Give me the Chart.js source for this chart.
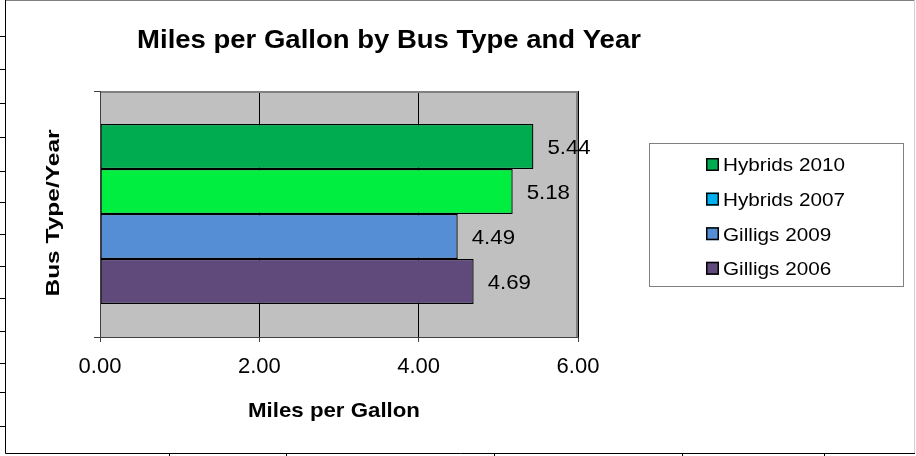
<!DOCTYPE html>
<html>
<head>
<meta charset="utf-8">
<script src="https://cdn.jsdelivr.net/npm/chart.js@4"></script>
<style>
html,body{margin:0;padding:0;background:#fff;}
canvas{display:block;}
</style>
</head>
<body>
<canvas id="c" width="916" height="456"></canvas>
<script>
// ---- data ----
const categories = [''];
const seriesNames = ['Hybrids 2010', 'Hybrids 2007', 'Gilligs 2009', 'Gilligs 2006'];
const seriesValues = [5.44, 5.18, 4.49, 4.69];
const barColors = ['#00AC50', '#00EE40', '#558ED5', '#604A7B'];
const legendColors = ['#00AC50', '#00B0F0', '#558ED5', '#604A7B'];
const xTickValues = [0, 2, 4, 6];
const chartTitle = 'Miles per Gallon by Bus Type and Year';
const xAxisTitle = 'Miles per Gallon';
const yAxisTitle = 'Bus Type/Year';

const FONT = '"Liberation Sans", Arial, sans-serif';

function drawText(ctx, text, x, y, font, sx, align, rot) {
  ctx.save();
  ctx.translate(x, y);
  if (rot) ctx.rotate(rot);
  ctx.scale(sx, 1);
  ctx.font = font;
  ctx.fillStyle = '#000';
  ctx.textAlign = align || 'left';
  ctx.textBaseline = 'alphabetic';
  ctx.fillText(text, 0, 0);
  ctx.restore();
}

const decor = {
  id: 'decor',
  beforeDraw(chart) {
    const ctx = chart.ctx;
    const a = chart.chartArea;
    ctx.save();
    ctx.fillStyle = '#fff';
    ctx.fillRect(0, 0, chart.width, chart.height);
    // spreadsheet cell marks outside the chart
    ctx.strokeStyle = '#000';
    ctx.lineWidth = 1;
    ctx.beginPath();
    [36, 69, 103, 137, 171, 202, 234, 266, 298, 331, 363, 392, 426].forEach(y => {
      ctx.moveTo(0, y + 0.5); ctx.lineTo(5, y + 0.5);
    });
    [169, 286, 494, 682, 824].forEach(x => {
      ctx.moveTo(x + 0.5, 453); ctx.lineTo(x + 0.5, 456);
    });
    ctx.stroke();
    // chart border
    ctx.strokeStyle = '#808080';
    ctx.beginPath(); ctx.moveTo(5, 0.5); ctx.lineTo(915, 0.5); ctx.stroke();
    ctx.strokeStyle = '#d0d0d0';
    ctx.beginPath(); ctx.moveTo(914.5, 0); ctx.lineTo(914.5, 453); ctx.stroke();
    ctx.strokeStyle = '#000';
    ctx.beginPath(); ctx.moveTo(5.5, 0); ctx.lineTo(5.5, 453.5); ctx.lineTo(915, 453.5); ctx.stroke();
    // plot background
    ctx.fillStyle = '#C0C0C0';
    ctx.fillRect(a.left, a.top, a.right - a.left, a.bottom - a.top);
    ctx.restore();
  },
  afterDatasetsDraw(chart) {
    const ctx = chart.ctx;
    const a = chart.chartArea;
    ctx.save();
    // plot border top/right
    ctx.strokeStyle = '#808080';
    ctx.lineWidth = 2;
    ctx.beginPath();
    ctx.moveTo(a.left, a.top + 1); ctx.lineTo(a.right - 1, a.top + 1); ctx.lineTo(a.right - 1, a.bottom);
    ctx.stroke();
    // y axis line + ticks
    ctx.strokeStyle = '#404040';
    ctx.lineWidth = 1;
    ctx.beginPath();
    ctx.moveTo(a.left + 0.5, a.top); ctx.lineTo(a.left + 0.5, a.bottom + 5);
    ctx.moveTo(a.left - 6, a.top + 0.5); ctx.lineTo(a.left, a.top + 0.5);
    ctx.moveTo(a.left - 6, a.bottom + 0.5); ctx.lineTo(a.left, a.bottom + 0.5);
    ctx.stroke();
    // data labels
    chart.data.datasets.forEach((ds, i) => {
      const el = chart.getDatasetMeta(i).data[0];
      const v = ds.data[0];
      drawText(ctx, v.toFixed(2), el.x + 14, el.y + 7.5, '21px ' + FONT, 1.06, 'left');
    });
    ctx.restore();
  },
  afterDraw(chart) {
    const ctx = chart.ctx;
    const a = chart.chartArea;
    // title
    drawText(ctx, chartTitle, 389, 48, 'bold 25px ' + FONT, 1.1, 'center');
    // axis titles
    drawText(ctx, xAxisTitle, 334, 416.5, 'bold 21px ' + FONT, 1.06, 'center');
    drawText(ctx, yAxisTitle, 58.5, (a.top + a.bottom) / 2 - 1, 'bold 19px ' + FONT, 1.29, 'center', -Math.PI / 2);
    // legend
    ctx.save();
    ctx.strokeStyle = '#808080';
    ctx.lineWidth = 1;
    ctx.strokeRect(649.5, 143.5, 254, 143);
    chart.data.datasets.forEach((ds, i) => {
      const cy = 164.5 + i * 34.6;
      ctx.fillStyle = legendColors[i];
      ctx.fillRect(706, cy - 6.5, 13, 13);
      ctx.strokeStyle = '#000';
      ctx.lineWidth = 1.5;
      ctx.strokeRect(706.75, cy - 5.75, 11.5, 11.5);
      drawText(ctx, ds.label, 723, cy + 6.8, '19px ' + FONT, 1.09, 'left');
    });
    ctx.restore();
  }
};

const datasets = seriesNames.map((name, i) => ({
  label: name,
  data: [seriesValues[i]],
  backgroundColor: barColors[i],
  borderColor: '#000',
  borderWidth: 1.3,
  borderSkipped: false,
  categoryPercentage: 0.732,
  barPercentage: 1.0
}));

new Chart(document.getElementById('c'), {
  type: 'bar',
  data: { labels: categories, datasets },
  plugins: [decor],
  options: {
    indexAxis: 'y',
    responsive: false,
    devicePixelRatio: 1,
    animation: false,
    layout: { padding: { left: 0, top: 91, right: 338, bottom: 0 } },
    plugins: { legend: { display: false }, title: { display: false }, tooltip: { enabled: false } },
    scales: {
      y: {
        ticks: { display: false },
        grid: { display: false },
        border: { display: false },
        afterFit(s) { s.width = 100; }
      },
      x: {
        min: 0, max: 6,
        afterBuildTicks(s) { s.ticks = xTickValues.map(v => ({ value: v })); },
        ticks: {
          callback: v => Number(v).toFixed(2),
          font: { family: FONT, size: 22 },
          color: '#000',
          padding: 12,
          maxRotation: 0
        },
        grid: { color: '#000', tickColor: '#404040', tickLength: 5, lineWidth: 1 },
        border: { color: '#404040', width: 1 },
        afterFit(s) { s.height = 119; }
      }
    }
  }
});
</script>
</body>
</html>
